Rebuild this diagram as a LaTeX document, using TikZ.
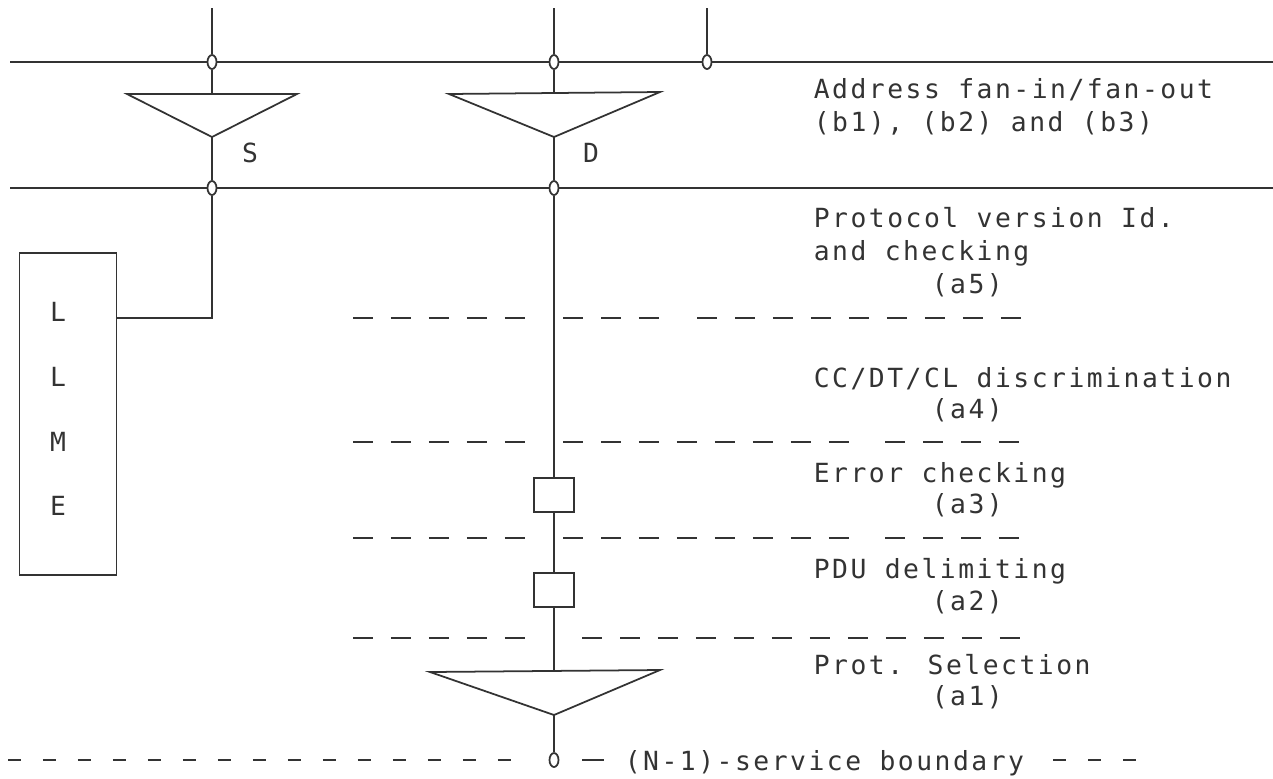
\documentclass[tikz,border=0pt]{standalone}
\usepackage{fontspec}
\newfontfamily\plotfont{DejaVu Sans Mono}[LetterSpace=9.5]
\usetikzlibrary{shapes.geometric}

\begin{document}
\begin{tikzpicture}[x=0.02cm,y=-0.02cm,line width=1pt,color=black!80,
  port/.style={ellipse,draw,fill=white,inner sep=0pt,minimum width=0.18cm,minimum height=0.28cm},
  chk/.style={draw,inner sep=0pt,minimum width=0.8cm,minimum height=0.68cm},
  lbl/.style={anchor=base west,inner sep=0pt,font=\plotfont\fontsize{15}{17}\selectfont},
  letter/.style={inner sep=0pt,font=\plotfont\fontsize{15}{17}\selectfont},
  cutline/.style={dash pattern=on 0.4cm off 0.36cm},
  bndline/.style={dash pattern=on 0.26cm off 0.44cm}]
\fill[white] (0,0) rectangle (1273,778);
\useasboundingbox (0,0) rectangle (1273,778);

% ports on the two address lines
\node[port] (ps) at (212,62) {};
\node[port] (pd) at (554,62) {};
\node[port] (pt) at (707,62) {};
\node[port] (qs) at (212,188) {};
\node[port] (qd) at (554,188) {};
\node[port] (pb) at (554,760) {};
\coordinate (hl1) at (10,62);
\coordinate (hr1) at (1273,62);
\coordinate (hl2) at (10,188);
\coordinate (hr2) at (1273,188);
\draw (hl1) -- (ps) -- (pd) -- (pt) -- (hr1);
\draw (hl2) -- (qs) -- (qd) -- (hr2);

% upper fan-in/fan-out
\coordinate (ts) at (212,8);
\coordinate (td) at (554,8);
\coordinate (tt) at (707,8);
\draw (ts) -- (ps);
\draw (td) -- (pd);
\draw (tt) -- (pt);
\coordinate (stop) at (212,94);
\coordinate (sapex) at (212,137);
\coordinate (dtop) at (554,94);
\coordinate (dapex) at (554,137);
\draw (127,94) -- (297,94) -- (sapex) -- cycle;
\draw (449,94) -- (660,92) -- (dapex) -- cycle;
\draw (ps) -- (stop);
\draw (pd) -- (dtop);
\draw (sapex) -- (qs);
\draw (dapex) -- (qd);
\node[letter] (slbl) at (250,153) {S};
\node[letter] (dlbl) at (591,153) {D};

% layer management entity
\node[draw,inner sep=0pt,minimum width=1.94cm,minimum height=6.44cm] (llme) at (68,414) {};
\node[letter] (l1) at (58,312) {L};
\node[letter] (l2) at (58,377) {L};
\node[letter] (l3) at (58,442) {M};
\node[letter] (l4) at (58,506) {E};
\coordinate (sbend) at (212,318);
\draw (qs) -- (sbend) -- (llme.east |- sbend);

% main stack
\node[chk] (err) at (554,495) {};
\node[chk] (pdu) at (554,590) {};
\coordinate (btop) at (554,672);
\coordinate (bapex) at (554,715);
\draw (qd) -- (err);
\draw (err) -- (pdu);
\draw (pdu) -- (btop);
\draw (430,672) -- (660,670) -- (bapex) -- cycle;
\draw (bapex) -- (pb);

% layer cuts
\draw[cutline] (353,318) -- (527,318);
\draw[cutline] (563,318) -- (661,318);
\draw[cutline] (697,318) -- (1021,318);
\draw[cutline] (353,442) -- (527,442);
\draw[cutline] (563,442) -- (851,442);
\draw[cutline] (885,442) -- (1021,442);
\draw[cutline] (353,538) -- (527,538);
\draw[cutline] (563,538) -- (851,538);
\draw[cutline] (885,538) -- (1021,538);
\draw[cutline] (353,638) -- (527,638);
\draw[cutline] (582,638) -- (1021,638);

% (N-1)-service boundary
\draw[bndline] (8,760) -- (518,760);
\draw (582,760) -- (604,760);
\draw[bndline] (1053,760) -- (1152,760);
\node[lbl] (tbnd) at (624,770) {(N-1)-service boundary};

% function labels
\node[lbl] (tb1) at (813,98) {Address fan-in/fan-out};
\node[lbl] (tb2) at (813,131) {(b1), (b2) and (b3)};
\node[lbl] (t5a) at (813,227) {Protocol version Id.};
\node[lbl] (t5b) at (813,260) {and checking};
\node[lbl] (t5c) at (931,293) {(a5)};
\node[lbl] (t4a) at (813,387) {CC/DT/CL discrimination};
\node[lbl] (t4b) at (931,418) {(a4)};
\node[lbl] (t3a) at (813,482) {Error checking};
\node[lbl] (t3b) at (931,513) {(a3)};
\node[lbl] (t2a) at (813,578) {PDU delimiting};
\node[lbl] (t2b) at (931,610) {(a2)};
\node[lbl] (t1a) at (813,674) {Prot. Selection};
\node[lbl] (t1b) at (931,705) {(a1)};
\end{tikzpicture}
\end{document}
